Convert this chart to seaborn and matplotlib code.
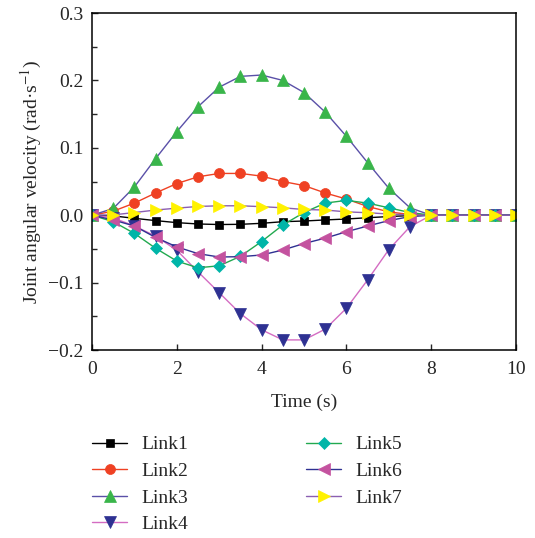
import numpy as np
import pandas as pd
import matplotlib
matplotlib.use("Agg")
import matplotlib.pyplot as plt
import seaborn as sns

# ---- data ----
time_s = [0, 0.5, 1, 1.5, 2, 2.5, 3, 3.5, 4, 4.5, 5, 5.5, 6, 6.5, 7, 7.5, 8, 8.5, 9, 9.5, 10]
link1 = [0, -0.001, -0.0046, -0.008, -0.011, -0.013, -0.0138, -0.0135, -0.012, -0.0096, -0.0086, -0.007, -0.0056, -0.0037, -0.002, -0.0005, 0, 0, 0, 0, 0]
link2 = [0, 0.006, 0.018, 0.033, 0.047, 0.057, 0.062, 0.062, 0.058, 0.050, 0.044, 0.033, 0.024, 0.013, 0.005, 0.001, 0, 0, 0, 0, 0]
link3 = [0, 0.010, 0.042, 0.084, 0.124, 0.161, 0.190, 0.206, 0.208, 0.200, 0.182, 0.153, 0.117, 0.078, 0.040, 0.011, 0, 0, 0, 0, 0]
link4 = [0, -0.004, -0.016, -0.031, -0.052, -0.084, -0.115, -0.146, -0.170, -0.185, -0.185, -0.169, -0.138, -0.096, -0.051, -0.017, 0, 0, 0, 0, 0]
link5 = [0, -0.0096, -0.027, -0.049, -0.068, -0.078, -0.075, -0.061, -0.039, -0.0145, 0.004, 0.018, 0.022, 0.018, 0.011, 0.004, 0, 0, 0, 0, 0]
link6 = [0, -0.007, -0.016, -0.033, -0.047, -0.057, -0.062, -0.0615, -0.059, -0.0516, -0.042, -0.034, -0.0245, -0.016, -0.008, -0.002, 0, 0, 0, 0, 0]
link7 = [0, 0.0005, 0.004, 0.0077, 0.0105, 0.013, 0.014, 0.014, 0.0127, 0.011, 0.0085, 0.0077, 0.005, 0.0037, 0.0018, 0.0003, 0, 0, 0, 0, 0]

series_names = ["Link1", "Link2", "Link3", "Link4", "Link5", "Link6", "Link7"]
series_values = [link1, link2, link3, link4, link5, link6, link7]

x_ticks = [0, 2, 4, 6, 8, 10]
y_ticks = [-0.2, -0.1, 0.0, 0.1, 0.2, 0.3]

# ---- styles ----
styles = {
    "Link1": dict(color="#000000", marker="s", mfc="#000000", ms=6.2),
    "Link2": dict(color="#ef4123", marker="o", mfc="#ef4123", ms=7.2),
    "Link3": dict(color="#5a50a8", marker="^", mfc="#39b54a", ms=8.5),
    "Link4": dict(color="#d46cc2", marker="v", mfc="#2e3192", ms=8.5),
    "Link5": dict(color="#22a94f", marker="D", mfc="#00b5a8", ms=6.5),
    "Link6": dict(color="#2e3192", marker="<", mfc="#c4529f", ms=8.5),
    "Link7": dict(color="#8b5fb2", marker=">", mfc="#fff200", ms=8.5),
}

sns.set_style("ticks")
plt.rcParams["font.family"] = ["Liberation Serif", "DejaVu Serif"]
plt.rcParams["mathtext.fontset"] = "stix"
plt.rcParams["axes.linewidth"] = 1.1

fig = plt.figure(figsize=(5.35, 5.38), dpi=100)
ax = fig.add_axes([0.172, 0.3494, 0.7925, 0.6264])

df = pd.DataFrame({"t": time_s})
for name, vals in zip(series_names, series_values):
    df[name] = vals

for name in series_names:
    st = styles[name]
    sns.lineplot(data=df, x="t", y=name, ax=ax, color=st["color"], linewidth=1.0,
                 marker=st["marker"], markersize=st["ms"], markerfacecolor=st["mfc"],
                 markeredgecolor=st["mfc"], markeredgewidth=0.5, label=name)

ax.set_xlim(0, 10)
ax.set_ylim(-0.2, 0.3)
ax.set_xticks(x_ticks)
ax.set_xticklabels([str(v) for v in x_ticks])
ax.set_yticks(y_ticks)
ax.set_yticklabels([f"{v:.1f}".replace("-", "\u2212") for v in y_ticks])
ax.yaxis.set_minor_locator(matplotlib.ticker.MultipleLocator(0.05))
ax.tick_params(axis="both", which="major", direction="in", length=4.5, width=1.0,
               labelsize=14, top=False, right=False)
ax.tick_params(axis="x", which="major", pad=8)
ax.tick_params(axis="y", which="major", pad=6)
ax.tick_params(axis="y", which="minor", direction="in", length=3.5, width=1.0, right=False)
for sp in ax.spines.values():
    sp.set_visible(True)
    sp.set_color("#000000")

ax.set_xlabel("Time (s)", fontsize=14, labelpad=11)
ax.set_ylabel("Joint angular velocity (rad\u00b7s$^{-1}$)", fontsize=14, labelpad=3)

handles, labels = ax.get_legend_handles_labels()
ax.legend(handles, labels, ncol=2, frameon=False, fontsize=14,
          loc="upper left", bbox_to_anchor=(0.172, 0.190), bbox_transform=fig.transFigure,
          borderpad=0, borderaxespad=0, handlelength=1.8, handletextpad=0.75,
          labelspacing=0.46, columnspacing=6.05)

fig.savefig("out.png", dpi=100)
